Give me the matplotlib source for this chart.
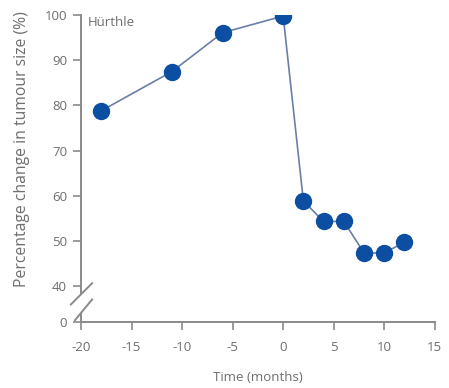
import matplotlib.pyplot as plt

# Time (months) and percentage change in tumour size
months = [-18, -11, -6, 0, 2, 4, 6, 8, 10, 12]
size_pct = [78.8, 87.5, 96.1, 99.8, 58.8, 54.3, 54.3, 47.3, 47.3, 49.7]

x_ticks = [-20, -15, -10, -5, 0, 5, 10, 15]
y_ticks = [40, 50, 60, 70, 80, 90, 100]
zero_pos = 32  # where "0" sits below the axis break

grey = '#6e6e6e'
axis_grey = '#8a8a8a'

plt.rcParams['font.family'] = ['Open Sans', 'DejaVu Sans']

fig = plt.figure(figsize=(4.49, 3.88), dpi=100)
ax = fig.add_axes([0.1804, 0.170, 0.788, 0.791])

ax.plot(months, size_pct, color='#6a7fa6', lw=1.2, zorder=2)
ax.plot(months, size_pct, 'o', color='#0b4ea2', ms=11.5, mec='#0b4ea2', zorder=3)

ax.set_xlim(-20, 15)
ax.set_ylim(zero_pos, 100)
ax.set_xticks(x_ticks)
ax.set_xticklabels([str(t) for t in x_ticks])
ax.set_yticks([zero_pos] + y_ticks)
ax.set_yticklabels(['0'] + [str(t) for t in y_ticks])

for s in ['top', 'right']:
    ax.spines[s].set_visible(False)
for s in ['left', 'bottom']:
    ax.spines[s].set_color(axis_grey)
    ax.spines[s].set_linewidth(1.4)
ax.spines['left'].set_bounds(38.4, 100)

# lower piece of the broken y axis and the break marks
ax.plot([-20, -20], [zero_pos, 33.8], color=axis_grey, lw=1.4, clip_on=False)
ax.plot([-21.0, -18.9], [35.9, 40.6], color=axis_grey, lw=1.4, clip_on=False, zorder=4)
ax.plot([-20.6, -18.9], [32.4, 37.0], color=axis_grey, lw=1.4, clip_on=False, zorder=4)

ax.tick_params(axis='both', direction='out', length=6, width=1.2,
               color=axis_grey, labelcolor=grey, labelsize=9.5)
ax.tick_params(axis='x', pad=8)
ax.tick_params(axis='y', pad=4)

ax.set_xlabel('Time (months)', color=grey, fontsize=9.5)
ax.set_ylabel('Percentage change in tumour size (%)', color=grey, fontsize=11.3)
ax.xaxis.set_label_coords(0.5, -0.158)
ax.yaxis.set_label_coords(-0.145, 0.565)

ax.text(-19.3, 98.3, 'Hürthle', color=grey, fontsize=9.5, va='center', ha='left')

fig.savefig('out.png', dpi=100)
